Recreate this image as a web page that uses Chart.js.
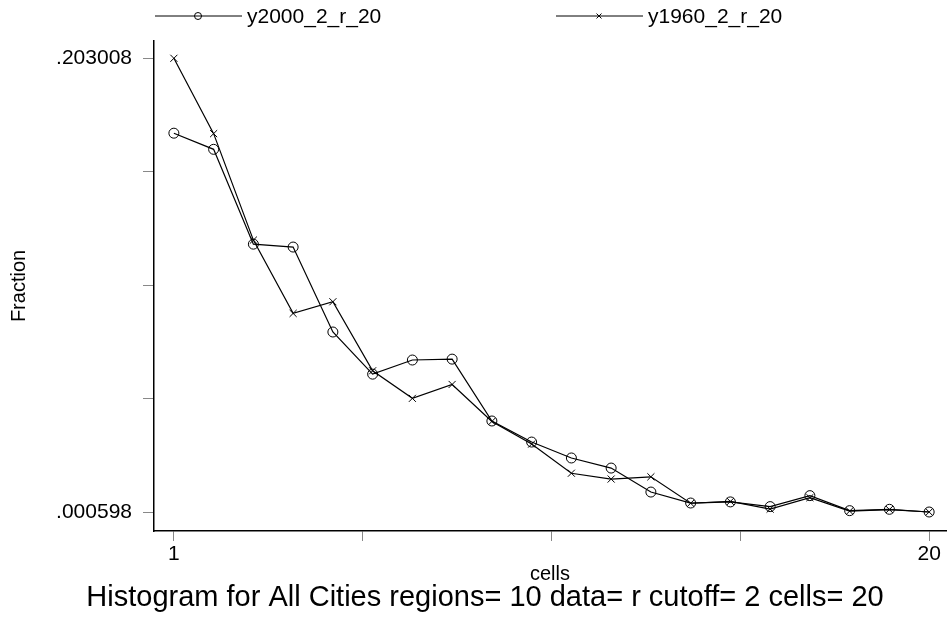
<!DOCTYPE html>
<html>
<head>
<meta charset="utf-8">
<title>Histogram for All Cities</title>
<script src="https://cdn.jsdelivr.net/npm/chart.js@4.4.1/dist/chart.umd.min.js"></script>
<style>
  body { margin: 0; background: #fff; }
  #wrap { width: 952px; height: 621px; }
</style>
</head>
<body>
<div id="wrap"><canvas id="histChart" width="952" height="621"></canvas></div>
<script>
// values
const cells = [1, 2, 3, 4, 5, 6, 7, 8, 9, 10, 11, 12, 13, 14, 15, 16, 17, 18, 19, 20];
const y2000 = [0.1696, 0.1624, 0.1201, 0.1188, 0.0809, 0.0621, 0.0684, 0.0688, 0.0412, 0.0318,
               0.0247, 0.0202, 0.0095, 0.0046, 0.0051, 0.0030, 0.0079, 0.0012, 0.0018, 0.000598];
const y1960 = [0.203008, 0.1694, 0.1219, 0.0892, 0.0944, 0.0636, 0.0513, 0.0575, 0.0410, 0.0309,
               0.0179, 0.0153, 0.0163, 0.0045, 0.0053, 0.0019, 0.0070, 0.0010, 0.0017, 0.000598];
const seriesNames = ['y2000_2_r_20', 'y1960_2_r_20'];
const xTickValues = [1, 5.75, 10.5, 15.25, 20];
const xTickLabels = ['1', '', '', '', '20'];
const yTickValues = [0.000598, 0.0512005, 0.101803, 0.1524055, 0.203008];
const yTickLabels = ['.000598', '', '', '', '.203008'];
const chartTitle = 'Histogram for All Cities regions= 10 data= r cutoff= 2 cells= 20';

const FONT = '"Liberation Sans", Arial, sans-serif';
Chart.defaults.font.family = FONT;
Chart.defaults.color = '#000';

// legend (line with marker in the middle) and the note under the graph
const stataText = {
    id: 'stataText',
    afterDraw(chart) {
        const ctx = chart.ctx;
        ctx.save();
        chart.data.datasets.forEach((ds, i) => {
            const x0 = 155 + i * 401, y = 16;
            ctx.strokeStyle = '#000';
            ctx.lineWidth = 1;
            ctx.beginPath();
            ctx.moveTo(x0, y);
            ctx.lineTo(x0 + 87, y);
            ctx.stroke();
            ctx.fillStyle = 'rgba(0,0,0,0)';
            Chart.helpers.drawPoint(ctx, { pointStyle: ds.pointStyle, radius: 3.5, borderWidth: 1, rotation: 0 }, x0 + 43, y);
            ctx.fillStyle = '#000';
            ctx.font = '21px ' + FONT;
            ctx.textAlign = 'left';
            ctx.textBaseline = 'middle';
            ctx.fillText(ds.label, x0 + 92, y + 1);
        });
        ctx.font = '29px ' + FONT;
        ctx.textAlign = 'center';
        ctx.textBaseline = 'middle';
        ctx.fillText(chartTitle, 485, 598);
        ctx.restore();
    }
};

function series(label, values, style) {
    return {
        label: label,
        data: cells.map((c, i) => ({ x: c, y: values[i] })),
        borderColor: '#000',
        borderWidth: 1.2,
        backgroundColor: 'rgba(0,0,0,0)',
        pointStyle: style,
        pointRadius: 5,
        pointBorderColor: '#000',
        pointBackgroundColor: 'rgba(0,0,0,0)',
        pointBorderWidth: 1,
        tension: 0,
        fill: false
    };
}

new Chart(document.getElementById('histChart').getContext('2d'), {
    type: 'line',
    data: {
        datasets: [
            series(seriesNames[0], y2000, 'circle'),
            series(seriesNames[1], y1960, 'crossRot')
        ]
    },
    options: {
        responsive: false,
        animation: false,
        devicePixelRatio: 1,
        layout: { padding: { top: 41, bottom: 39, left: 0, right: 0 } },
        plugins: {
            legend: { display: false },
            tooltip: { enabled: false },
            title: { display: false }
        },
        scales: {
            x: {
                type: 'linear',
                min: 0.5,
                max: 20.424,
                afterBuildTicks: s => { s.ticks = xTickValues.map(v => ({ value: v })); },
                afterFit: s => { s.height = 51; },
                ticks: {
                    callback: (v, i) => xTickLabels[i],
                    font: { size: 21 },
                    padding: 1,
                    maxRotation: 0,
                    autoSkip: false
                },
                grid: { drawOnChartArea: false, tickLength: 10, tickColor: '#888', tickWidth: 1 },
                border: { color: '#000', width: 1.5 },
                title: { display: true, text: 'cells', font: { size: 20, lineHeight: 0.8 }, padding: { top: 0, bottom: 0 } }
            },
            y: {
                min: -0.007878,
                max: 0.210726,
                afterBuildTicks: s => { s.ticks = yTickValues.map(v => ({ value: v })); },
                afterFit: s => { s.width = 154; },
                ticks: {
                    callback: (v, i) => yTickLabels[i],
                    font: { size: 21 },
                    padding: 11,
                    autoSkip: false
                },
                grid: { drawOnChartArea: false, tickLength: 11, tickColor: '#888', tickWidth: 1 },
                border: { color: '#000', width: 1.5 },
                title: { display: true, text: 'Fraction', font: { size: 20 }, padding: { top: 7, bottom: 0 } }
            }
        }
    },
    plugins: [stataText]
});
</script>
</body>
</html>
